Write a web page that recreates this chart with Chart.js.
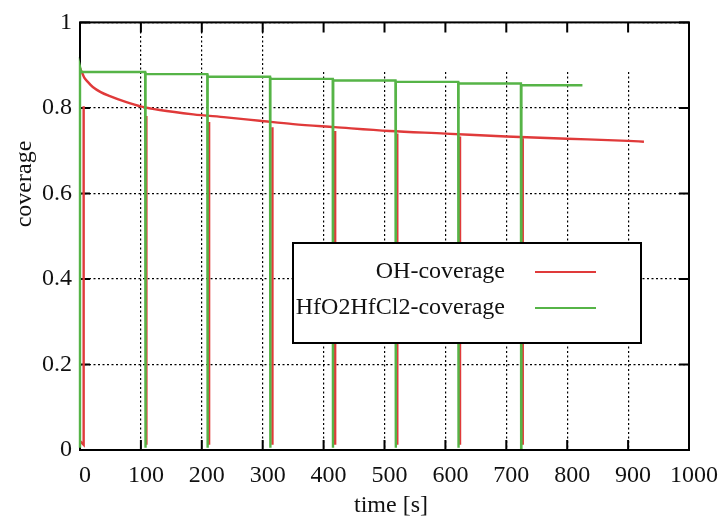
<!DOCTYPE html>
<html>
<head>
<meta charset="utf-8">
<script src="https://cdn.jsdelivr.net/npm/chart.js@4/dist/chart.umd.min.js"></script>
<style>
  body { margin: 0; background: #fff; }
  canvas { display: block; }
</style>
</head>
<body>
<canvas id="coverageChart" width="724" height="520"></canvas>
<script>
// valori
const xTicks = [0, 100, 200, 300, 400, 500, 600, 700, 800, 900, 1000];
const xTickLabels = ['0', '100', '200', '300', '400', '500', '600', '700', '800', '900', '1000'];
const yTicks = [0, 0.2, 0.4, 0.6, 0.8, 1];
const yTickLabels = ['0', '0.2', '0.4', '0.6', '0.8', '1'];

// OH-coverage: curva che decresce
const ohTime = [0, 3, 7, 12, 21, 34, 48, 75, 101, 131, 186, 240, 295, 350, 418, 508, 600, 700, 800, 900, 926];
const ohCov = [0.893, 0.884, 0.871, 0.862, 0.849, 0.837, 0.828, 0.814, 0.803, 0.795, 0.785, 0.778, 0.770, 0.762, 0.755, 0.746, 0.740, 0.733, 0.728, 0.723, 0.721];
// cadute a zero della OH-coverage
const ohDipTime = [6, 109, 212, 316, 419, 521, 624, 727];
const ohDipTop = [0.804, 0.781, 0.767, 0.755, 0.746, 0.740, 0.733, 0.729];
const ohDipBottom = 0.012;

// HfO2HfCl2-coverage: gradini
const hfCycle = [107, 209, 312, 415, 518, 621, 724];
const hfLevel = [0.884, 0.879, 0.873, 0.868, 0.864, 0.861, 0.857, 0.853];
const hfPeak = 0.896;
const hfBottom = 0.005;
const hfEnd = 825;

const seriesNames = ['OH-coverage', 'HfO2HfCl2-coverage'];
const redColor = '#e03a3a';
const greenColor = '#56b447';
const serif = "'Liberation Serif', 'DejaVu Serif', serif";

// costruzione punti
let ohPoints = ohTime.map((t, i) => ({ x: t, y: ohCov[i] }));

let dipPoints = [{ x: 0.5, y: 0.02 }];
ohDipTime.forEach((t, i) => {
  if (i > 0) dipPoints.push({ x: t, y: ohDipTop[i] });
  dipPoints.push({ x: t, y: ohDipBottom });
  if (i === 0) dipPoints.push({ x: t, y: ohDipTop[i] });
  dipPoints.push({ x: t, y: null });
});

let hfPoints = [{ x: 0, y: hfBottom }, { x: 0, y: hfPeak }, { x: 2, y: hfLevel[0] }];
hfCycle.forEach((t, i) => {
  hfPoints.push({ x: t, y: hfLevel[i] });
  hfPoints.push({ x: t + 0.4, y: hfBottom });
  hfPoints.push({ x: t + 0.8, y: hfLevel[i + 1] });
});
hfPoints.push({ x: hfEnd, y: hfLevel[hfLevel.length - 1] });

// riquadro legenda
const keyBox = { left: 293, top: 243, right: 641, bottom: 343 };

const framePlugin = {
  id: 'frame',
  beforeDatasetsDraw(chart) {
    const { ctx, chartArea: a, scales: { x, y } } = chart;
    ctx.save();
    // zona bianca in alto a destra (griglia nascosta)
    ctx.fillStyle = '#fff';
    ctx.fillRect(keyBox.left, a.top + 1, keyBox.right - keyBox.left, y.getPixelForValue(0.884) - a.top - 1);

    ctx.strokeStyle = '#000';
    ctx.lineWidth = 2;
    ctx.strokeRect(a.left, a.top, a.right - a.left, a.bottom - a.top);
    ctx.beginPath();
    xTicks.forEach(v => {
      const px = x.getPixelForValue(v);
      ctx.moveTo(px, a.bottom); ctx.lineTo(px, a.bottom - 10);
      ctx.moveTo(px, a.top); ctx.lineTo(px, a.top + 10);
    });
    yTicks.forEach(v => {
      const py = y.getPixelForValue(v);
      ctx.moveTo(a.left, py); ctx.lineTo(a.left + 10, py);
      ctx.moveTo(a.right, py); ctx.lineTo(a.right - 10, py);
    });
    ctx.stroke();
    ctx.restore();
  },
  afterDatasetsDraw(chart) {
    const { ctx } = chart;
    ctx.save();
    // legenda opaca
    ctx.fillStyle = '#fff';
    ctx.fillRect(keyBox.left, keyBox.top, keyBox.right - keyBox.left, keyBox.bottom - keyBox.top);
    ctx.strokeStyle = '#000';
    ctx.lineWidth = 2;
    ctx.strokeRect(keyBox.left, keyBox.top, keyBox.right - keyBox.left, keyBox.bottom - keyBox.top);

    ctx.font = '24px ' + serif;
    ctx.fillStyle = '#111';
    ctx.textAlign = 'right';
    ctx.textBaseline = 'middle';
    const rows = [272, 308];
    const cols = [redColor, greenColor];
    seriesNames.forEach((name, i) => {
      ctx.fillText(name, 505, rows[i]);
      ctx.strokeStyle = cols[i];
      ctx.lineWidth = 2.2;
      ctx.beginPath();
      ctx.moveTo(535, rows[i]);
      ctx.lineTo(596, rows[i]);
      ctx.stroke();
    });

    // titoli assi
    ctx.textAlign = 'center';
    ctx.fillText('time [s]', 391, 506);
    ctx.translate(25, 184);
    ctx.rotate(-Math.PI / 2);
    ctx.fillText('coverage', 0, 0);
    ctx.restore();
  }
};

let ctx = document.getElementById('coverageChart').getContext('2d');

let myChart = new Chart(ctx, {
  type: 'line',
  data: {
    datasets: [
      {
        label: seriesNames[1],
        data: hfPoints,
        borderColor: greenColor,
        borderWidth: 2.4,
        pointRadius: 0,
        order: 0,
        clip: false
      },
      {
        label: seriesNames[0],
        data: ohPoints,
        borderColor: redColor,
        borderWidth: 2.4,
        pointRadius: 0,
        cubicInterpolationMode: 'monotone',
        order: 1,
        clip: false
      },
      {
        label: seriesNames[0] + ' dips',
        data: dipPoints,
        borderColor: redColor,
        borderWidth: 2.4,
        pointRadius: 0,
        spanGaps: false,
        order: 2,
        clip: false
      }
    ]
  },
  options: {
    responsive: false,
    animation: false,
    layout: { padding: { top: 12, right: 34, left: 0, bottom: 0 } },
    plugins: { legend: { display: false }, tooltip: { enabled: false } },
    scales: {
      x: {
        type: 'linear',
        min: 0,
        max: 1000,
        afterBuildTicks: (scale) => { scale.ticks = xTicks.map(v => ({ value: v })); },
        afterFit: (scale) => { scale.height = 70; },
        ticks: {
          callback: (v, i) => xTickLabels[i],
          font: { family: serif, size: 24 },
          color: '#111',
          padding: 11,
          labelOffset: 5,
          maxRotation: 0,
          autoSkip: false
        },
        grid: { color: '#000', lineWidth: 1.2, drawTicks: false },
        border: { display: false, dash: [2, 2.5] }
      },
      y: {
        type: 'linear',
        min: 0,
        max: 1,
        afterBuildTicks: (scale) => { scale.ticks = yTicks.map(v => ({ value: v })); },
        afterFit: (scale) => { scale.width = 80; },
        ticks: {
          callback: (v, i) => yTickLabels[i],
          font: { family: serif, size: 24 },
          color: '#111',
          padding: 8,
          autoSkip: false
        },
        grid: { color: '#000', lineWidth: 1.2, drawTicks: false },
        border: { display: false, dash: [2, 2.5] }
      }
    }
  },
  plugins: [framePlugin]
});
</script>
</body>
</html>
